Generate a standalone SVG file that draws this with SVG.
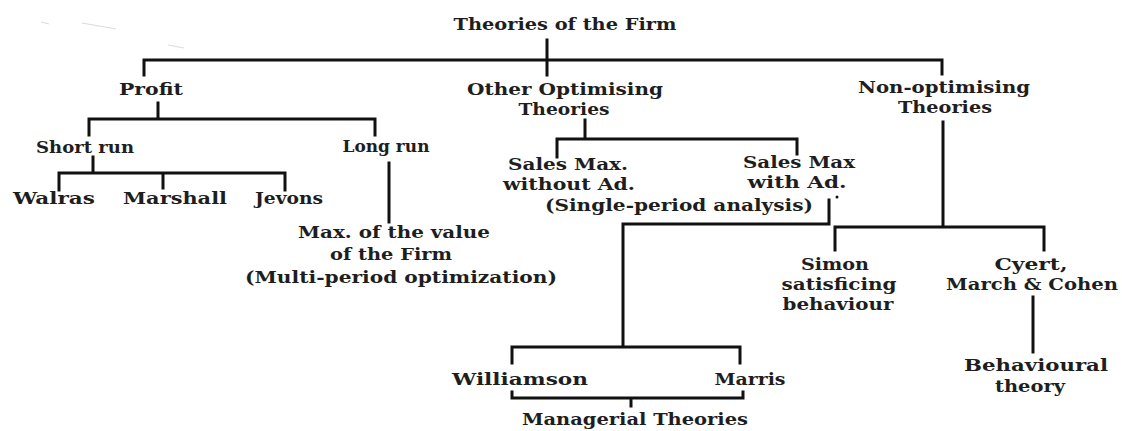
<svg xmlns="http://www.w3.org/2000/svg" width="1122" height="431" viewBox="0 0 1122 431">
<style>
text{font-family:"DejaVu Serif","Liberation Serif",serif;font-size:17px;font-weight:bold;fill:#1e1e1e;text-anchor:middle}
.c{stroke:#111;stroke-width:3;fill:none;stroke-linecap:square}
.s{stroke:#dcdcdc;stroke-width:1.2;fill:none}
</style>
<rect width="1122" height="431" fill="#ffffff"/>
<g id="artifacts">
<path class="s" d="M41 22 L49 24 M82 23 L116 29 M168 45 L184 48"/>
</g>
<g id="connectors">
<path class="c" d="M547 40 V75 M144 75 V60 H942 V74"/>
<path class="c" d="M158 103 V119 M89 135 V119 H375 V135"/>
<path class="c" d="M93 157 V173 M59 190 V173 H285 V190 M163 173 V188"/>
<path class="c" d="M389 163 V222"/>
<path class="c" d="M585 120 V139 M557 157 V139 H797 V154"/>
<path class="c" d="M829 200 V224 H623 V347 M512 363 V347 H740 V363"/>
<path class="c" d="M512 392 V398 H743 V392 M631 398 V406"/>
<path class="c" d="M943 122 V227 M835 250 V227 H1044 V250"/>
<path class="c" d="M1033 297 V352"/>
<circle cx="837" cy="197" r="1.5" fill="#111"/>
</g>
<g id="n-root"><text x="565" y="30" textLength="223" lengthAdjust="spacingAndGlyphs">Theories of the Firm</text></g>
<g id="n-profit"><text x="151" y="95" textLength="64" lengthAdjust="spacingAndGlyphs">Profit</text></g>
<g id="n-other"><text x="565" y="95" textLength="196" lengthAdjust="spacingAndGlyphs">Other Optimising</text><text x="564" y="115" textLength="91" lengthAdjust="spacingAndGlyphs">Theories</text></g>
<g id="n-nonopt"><text x="944" y="93" textLength="172" lengthAdjust="spacingAndGlyphs">Non-optimising</text><text x="945" y="113" textLength="94" lengthAdjust="spacingAndGlyphs">Theories</text></g>
<g id="n-short"><text x="85" y="153" textLength="98" lengthAdjust="spacingAndGlyphs">Short run</text></g>
<g id="n-long"><text x="386" y="152" textLength="87" lengthAdjust="spacingAndGlyphs">Long run</text></g>
<g id="n-walras"><text x="54" y="204" textLength="82" lengthAdjust="spacingAndGlyphs">Walras</text></g>
<g id="n-marshall"><text x="175" y="204" textLength="104" lengthAdjust="spacingAndGlyphs">Marshall</text></g>
<g id="n-jevons"><text x="289" y="204" textLength="68" lengthAdjust="spacingAndGlyphs">Jevons</text></g>
<g id="n-salesmax"><text x="568" y="170" textLength="120" lengthAdjust="spacingAndGlyphs">Sales Max.</text><text x="569" y="190" textLength="132" lengthAdjust="spacingAndGlyphs">without Ad.</text></g>
<g id="n-salesmaxad"><text x="799" y="168" textLength="112" lengthAdjust="spacingAndGlyphs">Sales Max</text><text x="797" y="188" textLength="99" lengthAdjust="spacingAndGlyphs">with Ad.</text></g>
<g id="n-single"><text x="679" y="211" textLength="268" lengthAdjust="spacingAndGlyphs">(Single-period analysis)</text></g>
<g id="n-maxvalue"><text x="394" y="238" textLength="192" lengthAdjust="spacingAndGlyphs">Max. of the value</text><text x="391" y="260" textLength="122" lengthAdjust="spacingAndGlyphs">of the Firm</text><text x="401" y="283" textLength="312" lengthAdjust="spacingAndGlyphs">(Multi-period optimization)</text></g>
<g id="n-simon"><text x="835" y="270" textLength="68" lengthAdjust="spacingAndGlyphs">Simon</text><text x="839" y="290" textLength="115" lengthAdjust="spacingAndGlyphs">satisficing</text><text x="838" y="310" textLength="111" lengthAdjust="spacingAndGlyphs">behaviour</text></g>
<g id="n-cyert"><text x="1031" y="270" textLength="73" lengthAdjust="spacingAndGlyphs">Cyert,</text><text x="1032" y="290" textLength="172" lengthAdjust="spacingAndGlyphs">March &amp; Cohen</text></g>
<g id="n-behavioural"><text x="1036" y="371" textLength="144" lengthAdjust="spacingAndGlyphs">Behavioural</text><text x="1030" y="392" textLength="70" lengthAdjust="spacingAndGlyphs">theory</text></g>
<g id="n-williamson"><text x="520" y="385" textLength="136" lengthAdjust="spacingAndGlyphs">Williamson</text></g>
<g id="n-marris"><text x="750" y="385" textLength="71" lengthAdjust="spacingAndGlyphs">Marris</text></g>
<g id="n-managerial"><text x="635" y="425" textLength="226" lengthAdjust="spacingAndGlyphs">Managerial Theories</text></g>
</svg>
